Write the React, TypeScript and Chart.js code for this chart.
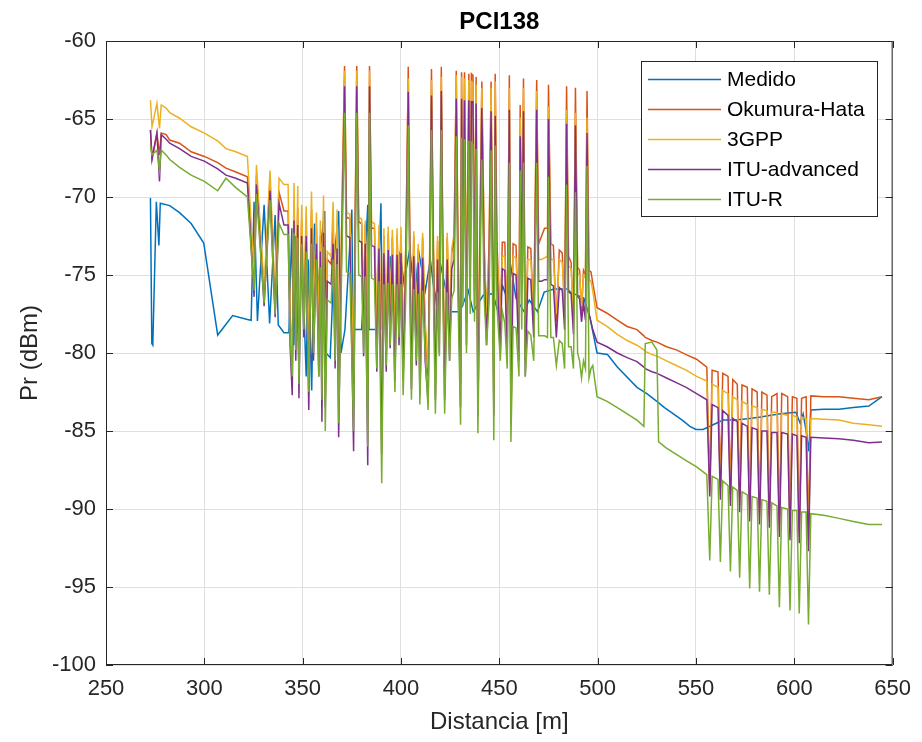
import React, { useEffect, useRef } from "react";
import { Chart, registerables } from "chart.js";

Chart.register(...registerables);

const TITLE = "PCI138";
const X_LABEL = "Distancia [m]";
const Y_LABEL = "Pr (dBm)";
const SERIES_NAMES = ["Medido", "Okumura-Hata", "3GPP", "ITU-advanced", "ITU-R"];
const COLORS = ["#0072BD", "#D95319", "#EDB120", "#7E2F8E", "#77AC30"];
const X_TICKS = [250, 300, 350, 400, 450, 500, 550, 600, 650];
const Y_TICKS = [-100, -95, -90, -85, -80, -75, -70, -65, -60];

// Medido (measured)
const medidoX = [
  272.6, 273.3, 273.8, 275.6, 276.9, 277.6, 282.4, 287.4, 293.3, 299.7,
  306.8, 314.4, 321.9, 323.8, 325.3, 327.0, 330.4, 333.2, 336.0, 337.6,
  340.5, 343.0, 344.5, 345.5, 346.5, 348.0, 349.5, 351.8, 352.8, 354.6,
  356.0, 358.0, 359.3, 361.2, 361.9, 364.0, 366.0, 368.3, 369.5, 371.5,
  375.0, 375.6, 380.0, 383.1, 383.7, 387.7, 389.8, 390.5, 392.5, 394.5,
  396.9, 399.5, 401.5, 404.5, 406.9, 409.0, 412.4, 414.9, 417.4, 419.9,
  422.4, 424.9, 430.0, 434.2, 436.7, 441.8, 446.7, 449.2, 451.7, 454.2,
  455.9, 458.5, 462.6, 465.2, 469.4, 472.8, 477.8, 484.6, 486.2, 493.0,
  496.2, 499.7, 505.0, 510.0, 520.0, 525.0, 530.1, 534.0, 538.5, 543.0,
  546.9, 550.0, 553.6, 558.7, 563.8, 570.0, 577.2, 583.0, 587.3, 593.0,
  600.8, 603.0, 604.5, 606.0, 607.4, 608.4, 615.0, 622.7, 630.0, 637.9,
  644.6,
];
const medidoY = [
  -70.06, -79.4, -79.5, -70.3, -73.1, -70.4, -70.55, -71.0, -71.7, -72.95,
  -78.85, -77.6, -77.85, -77.9, -70.3, -77.95, -70.5, -78.1, -71.15, -78.2,
  -78.7, -78.7, -72.0, -79.5, -72.5, -80.5, -73.0, -81.5, -74.0, -82.4,
  -71.7, -76.0, -73.0, -70.9, -80.0, -80.3, -74.0, -70.9, -80.0, -78.5,
  -70.8, -78.5, -78.5, -70.5, -78.5, -78.5, -70.4, -78.3, -77.7, -73.8,
  -78.0, -73.5, -75.5, -73.3, -76.6, -73.5, -76.0, -74.0, -76.6, -74.2,
  -75.7, -77.35, -77.35, -76.0, -77.35, -76.3, -76.2, -77.3, -75.7, -76.6,
  -74.5, -76.5, -77.35, -76.6, -77.35, -76.1, -75.9, -75.9, -76.1, -76.5,
  -77.8, -80.0, -80.1, -80.9, -82.2, -82.6, -83.1, -83.5, -83.9, -84.3,
  -84.7, -84.9, -84.9, -84.6, -84.3, -84.3, -84.2, -84.1, -84.0, -83.9,
  -83.8, -84.5, -83.9, -85.0, -86.3, -83.65, -83.6, -83.6, -83.5, -83.4,
  -82.8,
];

// Shared distance samples for the four propagation models
const modelX = [
  272.6, 273.4, 275.9, 277.2, 278.1, 280.6, 282.4, 287.4, 293.3, 300.0,
  306.8, 311.0, 316.0, 321.9, 325.3, 326.5, 330.4, 333.4, 336.0, 338.0,
  340.5, 342.6, 343.6, 344.7, 345.6, 346.5, 347.5, 348.1, 349.5, 350.6,
  351.8, 353.1, 354.5, 355.5, 357.0, 358.2, 359.0, 359.8, 360.6, 361.5,
  362.5, 364.5, 365.5, 366.5, 367.5, 368.3, 369.5, 371.3, 372.3, 374.0,
  375.9, 376.7, 377.5, 378.5, 380.0, 381.0, 381.8, 383.1, 384.0, 385.0,
  386.5, 387.7, 388.8, 390.2, 391.3, 392.5, 393.5, 394.5, 395.6, 396.9,
  398.0, 399.0, 400.0, 401.1, 402.5, 403.7, 404.5, 405.3, 406.5, 407.8,
  408.8, 409.6, 411.0, 412.3, 413.8, 414.6, 415.5, 416.5, 417.5, 418.6,
  419.5, 420.5, 421.3, 422.2, 423.5, 424.7, 425.8, 427.0, 428.1, 429.0,
  430.3, 430.8, 431.5, 432.3, 433.3, 434.5, 435.2, 435.8, 436.6, 437.4,
  438.2, 439.1, 440.0, 441.1, 442.3, 443.5, 444.8, 445.8, 446.6, 447.2,
  447.9, 448.8, 450.5, 451.5, 452.8, 454.0, 455.1, 455.9, 457.0, 458.5,
  460.0, 460.6, 461.4, 462.3, 463.2, 464.5, 466.0, 467.5, 469.0, 470.0,
  471.5, 473.0, 474.5, 475.0, 476.2, 477.5, 479.0, 480.5, 482.0, 483.2,
  484.2, 485.2, 486.5, 487.7, 488.7, 489.8, 490.8, 491.8, 492.8, 493.8,
  494.6, 495.6, 496.6, 497.5, 499.7, 504.8, 510.0, 515.0, 520.0, 523.5,
  524.2, 527.6, 530.1, 531.0, 535.0, 540.0, 545.0, 550.3, 555.5, 557.0,
  558.2, 561.2, 562.4, 563.6, 566.3, 567.5, 568.7, 571.0, 572.2, 573.4,
  576.1, 577.3, 578.5, 581.1, 582.3, 583.5, 586.1, 587.3, 588.5, 591.2,
  592.4, 593.6, 596.6, 597.8, 599.0, 601.3, 602.5, 603.7, 606.0, 607.2,
  608.4, 615.0, 622.7, 630.0, 637.9, 644.6,
];

const okumuraHata = [
  -65.7, -67.5, -65.9, -67.3, -65.9, -66.0, -66.35, -66.55, -67.1, -67.4,
  -67.8, -68.15, -68.4, -68.7, -75.5, -68.6, -76.3, -68.9, -77.0, -69.7,
  -70.9, -70.9, -78.0, -80.5, -70.5, -78.5, -70.7, -80.5, -71.5, -77.5,
  -71.5, -81.0, -70.8, -78.0, -72.0, -79.0, -72.5, -81.0, -70.9, -82.0,
  -74.0, -74.3, -71.6, -79.0, -72.0, -82.0, -74.3, -61.6, -71.3, -71.4,
  -82.0, -71.5, -61.6, -71.6, -71.7, -78.0, -71.8, -82.0, -61.6, -72.0,
  -72.0, -79.0, -72.2, -84.0, -72.5, -79.5, -72.3, -78.0, -72.6, -80.0,
  -72.5, -77.5, -72.4, -80.0, -73.0, -61.65, -73.2, -81.0, -72.5, -79.0,
  -73.3, -81.0, -72.6, -78.5, -81.5, -73.5, -61.8, -73.4, -81.5, -72.8,
  -78.5, -61.65, -73.5, -81.5, -72.6, -79.0, -73.6, -72.8, -61.9, -73.5,
  -82.0, -62.0, -74.0, -62.0, -78.0, -62.1, -75.0, -62.1, -62.2, -76.0,
  -62.3, -82.5, -73.5, -62.6, -73.0, -78.0, -73.0, -62.6, -73.0, -82.5,
  -62.1, -72.9, -78.5, -72.9, -72.9, -79.0, -62.2, -83.0, -73.0, -73.1,
  -79.5, -64.1, -73.1, -62.4, -80.5, -73.2, -73.3, -78.0, -62.5, -73.0,
  -72.5, -72.0, -72.0, -62.8, -73.0, -73.1, -78.0, -73.4, -73.6, -77.5,
  -62.9, -73.8, -74.2, -78.0, -63.0, -74.5, -74.7, -77.5, -74.7, -75.0,
  -63.2, -74.7, -74.8, -75.5, -77.1, -77.45, -77.9, -78.3, -78.5, -78.9,
  -79.0, -79.2, -79.3, -79.35, -79.6, -79.8, -80.1, -80.4, -80.9, -88.5,
  -81.1, -81.2, -88.6, -81.3, -81.5, -89.0, -81.7, -82.0, -89.3, -82.05,
  -82.2, -90.0, -82.3, -82.5, -90.2, -82.5, -82.7, -90.4, -82.8, -82.6,
  -91.0, -82.6, -82.8, -91.2, -82.8, -82.9, -91.4, -82.9, -82.8, -91.9,
  -82.75, -82.8, -82.8, -82.9, -83.0, -82.8,
];

const gpp3 = [
  -63.8, -65.5, -64.0, -65.6, -64.1, -64.3, -64.6, -64.95, -65.5, -65.9,
  -66.4, -66.9, -67.1, -67.4, -75.0, -67.95, -75.8, -68.3, -76.5, -68.8,
  -69.2, -69.2, -77.5, -80.0, -69.1, -78.0, -69.3, -80.0, -70.5, -77.0,
  -70.6, -80.5, -69.65, -77.5, -71.0, -78.5, -71.5, -80.5, -69.9, -81.5,
  -73.5, -73.8, -70.3, -78.5, -70.8, -81.5, -73.8, -61.9, -71.0, -71.1,
  -81.5, -71.2, -61.9, -71.3, -71.4, -77.5, -71.5, -81.5, -61.9, -71.6,
  -71.7, -78.5, -71.8, -83.5, -72.0, -79.0, -71.9, -77.5, -72.1, -79.5,
  -72.0, -77.0, -71.9, -79.5, -72.7, -62.4, -72.9, -80.5, -72.2, -78.5,
  -73.0, -80.5, -72.3, -78.0, -81.0, -73.2, -62.5, -73.1, -81.0, -72.5,
  -78.0, -62.3, -73.2, -81.0, -72.3, -78.5, -73.3, -72.4, -62.2, -73.0,
  -81.5, -62.3, -73.5, -62.4, -77.5, -62.5, -74.5, -62.6, -62.7, -75.5,
  -62.8, -82.0, -73.2, -63.0, -73.3, -77.5, -73.6, -63.0, -73.7, -82.0,
  -62.6, -73.8, -78.0, -73.8, -73.8, -78.5, -63.0, -82.5, -73.8, -73.9,
  -79.0, -64.9, -73.9, -63.0, -80.0, -74.0, -74.0, -77.5, -63.2, -74.0,
  -74.0, -73.9, -73.8, -64.2, -74.0, -74.0, -77.5, -74.0, -74.2, -77.0,
  -64.4, -74.4, -74.6, -77.5, -64.6, -74.9, -75.0, -77.0, -75.0, -75.2,
  -64.9, -75.3, -75.4, -76.0, -77.9, -78.3, -78.8, -79.2, -79.5, -79.8,
  -79.9, -80.1, -80.2, -80.25, -80.5, -80.8, -81.1, -81.5, -81.8, -89.0,
  -82.0, -82.2, -89.1, -82.4, -82.6, -89.5, -82.8, -83.0, -89.8, -83.1,
  -83.3, -90.4, -83.4, -83.5, -90.6, -83.6, -83.7, -90.8, -83.8, -83.8,
  -91.4, -83.9, -84.0, -91.6, -84.0, -84.1, -91.8, -84.1, -84.2, -92.3,
  -84.2, -84.25, -84.3, -84.5, -84.6, -84.7,
];

const ituAdvanced = [
  -65.7, -67.6, -65.9, -69.0, -66.0, -66.3, -66.55, -66.9, -67.4, -67.7,
  -68.2, -68.6, -68.8, -69.1, -76.4, -69.2, -77.0, -69.6, -77.7, -70.4,
  -71.8, -71.8, -79.5, -82.7, -71.5, -80.5, -71.8, -82.9, -72.5, -79.0,
  -72.5, -83.65, -72.0, -80.5, -73.0, -81.5, -73.5, -84.4, -72.3, -83.5,
  -75.4, -75.6, -73.0, -81.0, -73.3, -85.4, -75.6, -62.9, -72.5, -72.6,
  -86.3, -72.7, -62.9, -72.8, -72.9, -80.2, -73.0, -87.2, -62.9, -73.1,
  -73.2, -81.2, -73.3, -86.5, -73.6, -81.2, -73.4, -79.7, -73.7, -81.8,
  -73.7, -79.5, -73.6, -81.7, -74.0, -63.25, -74.1, -82.3, -73.8, -80.8,
  -74.2, -82.7, -73.9, -80.5, -83.2, -74.4, -63.5, -74.3, -83.0, -74.0,
  -80.0, -63.2, -74.5, -83.0, -74.0, -80.5, -74.6, -74.0, -63.7, -74.8,
  -83.5, -63.7, -75.0, -63.8, -79.5, -63.8, -76.0, -63.9, -63.9, -77.0,
  -64.0, -84.0, -75.0, -64.3, -74.6, -79.5, -74.6, -64.5, -74.6, -84.0,
  -64.8, -74.6, -80.0, -74.6, -74.7, -80.5, -64.4, -84.5, -74.9, -75.0,
  -80.5, -66.1, -75.1, -64.5, -81.5, -75.2, -75.3, -79.0, -64.4, -75.4,
  -75.4, -75.3, -75.3, -65.0, -75.6, -75.7, -79.0, -75.8, -76.0, -78.5,
  -65.3, -76.1, -76.2, -78.8, -65.4, -76.4, -76.5, -78.0, -76.8, -77.9,
  -65.9, -77.5, -78.0, -78.5, -79.3, -79.6, -80.0, -80.3, -80.55, -80.9,
  -81.0, -81.2, -81.3, -81.35, -81.6, -81.9, -82.2, -82.6, -83.0, -89.2,
  -83.3, -83.5, -89.4, -83.7, -84.0, -89.8, -84.2, -84.4, -90.2, -84.5,
  -84.7, -90.8, -84.8, -84.9, -91.0, -85.0, -85.0, -91.2, -85.1, -85.1,
  -91.8, -85.1, -85.2, -92.0, -85.2, -85.3, -92.2, -85.3, -85.4, -92.7,
  -85.4, -85.45, -85.5, -85.6, -85.75, -85.7,
];

const ituR = [
  -66.7, -67.3, -67.0, -68.3, -67.0, -67.3, -67.6, -68.1, -68.6, -69.0,
  -69.6, -68.8, -69.4, -70.0, -76.0, -69.8, -76.8, -70.2, -77.5, -71.7,
  -72.4, -72.4, -79.0, -81.5, -72.3, -79.8, -72.6, -82.0, -73.0, -78.5,
  -73.5, -82.5, -73.0, -80.0, -74.0, -81.5, -74.5, -83.0, -73.2, -85.0,
  -76.6, -76.8, -74.0, -80.5, -74.3, -84.5, -76.8, -64.6, -74.8, -74.9,
  -85.0, -75.0, -64.6, -75.0, -75.1, -80.0, -75.1, -86.0, -64.6, -75.2,
  -75.3, -81.0, -75.4, -88.35, -75.6, -80.8, -75.5, -79.5, -75.6, -82.5,
  -75.6, -79.0, -75.6, -82.7, -76.0, -65.4, -76.1, -83.0, -75.9, -80.5,
  -76.2, -83.3, -76.0, -80.0, -83.65, -76.3, -65.7, -76.3, -83.9, -76.1,
  -80.2, -65.7, -76.4, -83.9, -76.1, -80.5, -76.5, -76.0, -66.1, -76.5,
  -84.6, -66.2, -77.0, -66.3, -80.0, -66.4, -77.5, -66.5, -66.6, -78.0,
  -66.9, -85.15, -76.8, -67.6, -76.5, -79.5, -76.8, -67.0, -76.9, -85.6,
  -66.7, -77.0, -80.5, -77.3, -78.1, -81.0, -67.8, -85.7, -78.3, -78.4,
  -81.5, -68.3, -78.5, -67.8, -81.5, -78.6, -78.85, -80.5, -67.8, -78.9,
  -78.9, -78.9, -79.0, -68.7, -79.0, -79.0, -80.8, -79.2, -79.4, -81.0,
  -69.2, -79.6, -79.6, -81.0, -69.7, -80.0, -80.5, -81.6, -80.5, -81.0,
  -68.0, -81.6, -81.0, -80.8, -82.8, -83.1, -83.5, -83.9, -84.3, -84.7,
  -79.4, -79.3, -79.8, -85.7, -86.1, -86.5, -86.9, -87.3, -87.8, -93.3,
  -87.9, -88.1, -93.4, -88.2, -88.5, -94.0, -88.6, -88.8, -94.4, -88.9,
  -89.1, -95.1, -89.2, -89.3, -95.3, -89.4, -89.5, -95.5, -89.6, -89.8,
  -96.3, -89.9, -90.0, -96.5, -90.1, -90.1, -96.7, -90.2, -90.2, -97.4,
  -90.3, -90.4, -90.6, -90.8, -91.0, -91.0,
];

const FONT = "'Liberation Sans', Arial, Helvetica, sans-serif";
const AXIS_COLOR = "#262626";
const GRID_COLOR = "#dfdfdf";

const toPoints = (xs: number[], ys: number[]) =>
  xs.map((x, i) => ({ x, y: ys[i] }));

const framePlugin = {
  id: "matlabFrame",
  afterDatasetsDraw(chart: any) {
    const { ctx, chartArea, scales } = chart;
    const { left, right, top, bottom } = chartArea;
    ctx.save();
    ctx.strokeStyle = AXIS_COLOR;
    ctx.lineWidth = 1;
    ctx.beginPath();
    ctx.rect(left + 0.5, top + 0.5, right - left - 1, bottom - top - 1);
    ctx.stroke();
    const L = 7;
    ctx.beginPath();
    scales.x.ticks.forEach((t: any) => {
      const px = Math.round(scales.x.getPixelForValue(t.value)) + 0.5;
      ctx.moveTo(px, bottom);
      ctx.lineTo(px, bottom - L);
      ctx.moveTo(px, top);
      ctx.lineTo(px, top + L);
    });
    scales.y.ticks.forEach((t: any) => {
      const py = Math.round(scales.y.getPixelForValue(t.value)) + 0.5;
      ctx.moveTo(left, py);
      ctx.lineTo(left + L, py);
      ctx.moveTo(right, py);
      ctx.lineTo(right - L, py);
    });
    ctx.stroke();
    ctx.restore();
  },
  afterDraw(chart: any) {
    const { ctx } = chart;
    const ds = chart.data.datasets;
    const boxL = 641, boxT = 61, boxR = 878, boxB = 217;
    ctx.save();
    ctx.fillStyle = "#ffffff";
    ctx.fillRect(boxL, boxT, boxR - boxL, boxB - boxT);
    ctx.strokeStyle = AXIS_COLOR;
    ctx.lineWidth = 1;
    ctx.strokeRect(boxL + 0.5, boxT + 0.5, boxR - boxL - 1, boxB - boxT - 1);
    ctx.font = `21px ${FONT}`;
    ctx.textBaseline = "middle";
    ctx.textAlign = "left";
    ds.forEach((d: any, i: number) => {
      const yy = 79 + i * 30;
      ctx.strokeStyle = d.borderColor;
      ctx.lineWidth = 1.5;
      ctx.beginPath();
      ctx.moveTo(648, yy + 0.5);
      ctx.lineTo(721, yy + 0.5);
      ctx.stroke();
      ctx.fillStyle = "#000000";
      ctx.fillText(d.label, 727, yy + 1);
    });
    ctx.restore();
  },
};

export default function App() {
  const canvasRef = useRef<HTMLCanvasElement | null>(null);

  useEffect(() => {
    const canvas = canvasRef.current;
    if (!canvas) return;
    const modelSeries = [okumuraHata, gpp3, ituAdvanced, ituR];
    const datasets: any[] = [
      {
        label: SERIES_NAMES[0],
        data: toPoints(medidoX, medidoY),
        borderColor: COLORS[0],
        order: 5,
      },
      ...modelSeries.map((ys, i) => ({
        label: SERIES_NAMES[i + 1],
        data: toPoints(modelX, ys),
        borderColor: COLORS[i + 1],
        order: 4 - i,
      })),
    ];
    datasets.forEach((d) => {
      d.backgroundColor = d.borderColor;
      d.borderWidth = 1.5;
      d.pointRadius = 0;
      d.tension = 0;
      d.fill = false;
    });

    const chart = new Chart(canvas, {
      type: "line",
      data: { datasets },
      options: {
        animation: false,
        responsive: false,
        devicePixelRatio: 1,
        layout: { padding: { top: 0, right: 25, bottom: 0, left: 0 } },
        plugins: {
          legend: { display: false },
          tooltip: { enabled: false },
          title: {
            display: true,
            text: TITLE,
            fullSize: false,
            color: "#000000",
            font: { family: FONT, size: 24, weight: "bold" },
            padding: { top: 7.6, bottom: 4.6 },
          },
        },
        scales: {
          x: {
            type: "linear",
            min: 250,
            max: 650,
            afterBuildTicks: (s: any) => {
              s.ticks = X_TICKS.map((v) => ({ value: v }));
            },
            afterFit: (s: any) => {
              s.height = 77;
            },
            ticks: {
              color: AXIS_COLOR,
              font: { family: FONT, size: 22 },
              padding: 11,
              maxRotation: 0,
            },
            grid: { color: GRID_COLOR, drawTicks: false },
            border: { display: false },
            title: {
              display: true,
              text: X_LABEL,
              color: AXIS_COLOR,
              font: { family: FONT, size: 24 },
              padding: { top: 0, bottom: 5.6 },
            },
          },
          y: {
            type: "linear",
            min: -100,
            max: -60,
            afterBuildTicks: (s: any) => {
              s.ticks = Y_TICKS.map((v) => ({ value: v }));
            },
            afterFit: (s: any) => {
              s.width = 106;
            },
            ticks: {
              color: AXIS_COLOR,
              font: { family: FONT, size: 22 },
              padding: 10,
            },
            grid: { color: GRID_COLOR, drawTicks: false },
            border: { display: false },
            title: {
              display: true,
              text: Y_LABEL,
              color: AXIS_COLOR,
              font: { family: FONT, size: 24 },
              padding: { top: 15.6, bottom: 0 },
            },
          },
        },
      },
      plugins: [framePlugin],
    } as any);

    return () => chart.destroy();
  }, []);

  return (
    <div style={{ position: "absolute", left: 0, top: 0, width: 922, height: 742, background: "#ffffff" }}>
      <canvas ref={canvasRef} width={922} height={742} style={{ display: "block" }} />
    </div>
  );
}
